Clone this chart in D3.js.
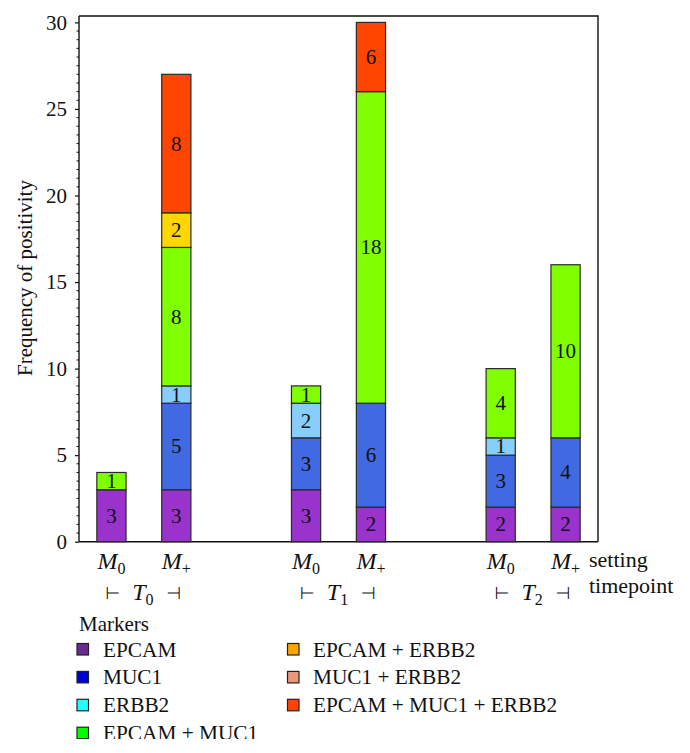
<!DOCTYPE html>
<html>
<head>
<meta charset="utf-8">
<script src="https://cdn.jsdelivr.net/npm/d3@7"></script>
<style>
  html, body { margin: 0; padding: 0; background: #fff; }
  svg { display: block; }
</style>
</head>
<body>
<svg id="chart" width="690" height="753"></svg>
<script>
// ---- data ----
const timepoints = ["0", "1", "2"];            // T subscripts
const settings = ["0", "+"];                   // M subscripts
const barSlots = [1, 2, 4, 5, 7, 8];           // slot of each bar (T0 M0, T0 M+, T1 M0, T1 M+, T2 M0, T2 M+)
const barSetting = ["0", "+", "0", "+", "0", "+"];
const seriesNames = ["EPCAM", "MUC1", "ERBB2", "EPCAM + MUC1", "EPCAM + ERBB2", "MUC1 + ERBB2", "EPCAM + MUC1 + ERBB2"];
const epcam       = [3, 3, 3, 2, 2, 2];
const muc1        = [0, 5, 3, 6, 3, 4];
const erbb2       = [0, 1, 2, 0, 1, 0];
const epcamMuc1   = [1, 8, 1, 18, 4, 10];
const epcamErbb2  = [0, 2, 0, 0, 0, 0];
const muc1Erbb2   = [0, 0, 0, 0, 0, 0];
const triple      = [0, 8, 0, 4, 0, 0];
const tripleLabels = [0, 8, 0, 6, 0, 0];       // printed numbers (the figure prints 6 on a 4-high segment)
const yTicks = [0, 5, 10, 15, 20, 25, 30];
const barColors    = ["#9933cc", "#4169e1", "#87cefa", "#7fff00", "#ffd700", "#e9967a", "#ff4500"];
const legendColors = ["#6a2c91", "#0000cd", "#22ffff", "#00ff00", "#ffa500", "#e9967a", "#ff4500"];

const seriesValues = [epcam, muc1, erbb2, epcamMuc1, epcamErbb2, muc1Erbb2, triple];
const seriesLabels = [epcam, muc1, erbb2, epcamMuc1, epcamErbb2, muc1Erbb2, tripleLabels];

const SERIF = "Liberation Serif";
const SYM = "DejaVu Sans";

// ---- layout ----
const svg = d3.select("#chart").style("font-family", SERIF);
const pL = 79, pR = 598, pT = 16, pB = 541.7;
const x = d3.scaleLinear().domain([0.5, 8.5]).range([pL, pR]);
const y = d3.scaleLinear().domain([0, 30.37]).range([pB, pT]);
const barW = x(1.45) - x(1);

function txt(sel) { return sel.append("text").style("font-family", SERIF).attr("fill", "#111"); }

// table of stacked rows
const rows = barSlots.map((s, i) => {
  const r = { slot: s };
  seriesNames.forEach((n, k) => { r[n] = seriesValues[k][i]; });
  return r;
});
const stack = d3.stack().keys(seriesNames)(rows);

// frame top & right
svg.append("path")
  .attr("d", `M${pL},${pT}H${pR}V${pB}`)
  .attr("fill", "none").attr("stroke", "#111").attr("stroke-width", 1.4);
// bottom axis line
svg.append("line").attr("x1", pL).attr("x2", pR).attr("y1", pB).attr("y2", pB)
  .attr("stroke", "#111").attr("stroke-width", 1.4);

// bars
stack.forEach((layer, k) => {
  const g = svg.append("g");
  layer.forEach((d, i) => {
    if (d[1] - d[0] <= 0) return;
    const cx = x(d.data.slot);
    g.append("rect")
      .attr("x", cx - barW / 2).attr("width", barW)
      .attr("y", y(d[1])).attr("height", y(d[0]) - y(d[1]))
      .attr("fill", barColors[k]).attr("stroke", "#2a2a2a").attr("stroke-width", 1.2);
    txt(g)
      .attr("x", cx).attr("y", (y(d[0]) + y(d[1])) / 2 + 7)
      .attr("text-anchor", "middle").attr("font-size", 21)
      .text(seriesLabels[k][i]);
  });
});

// y axis
const yAxis = svg.append("g").attr("transform", `translate(${pL},0)`)
  .call(d3.axisLeft(y).tickValues(yTicks).tickSize(4).tickPadding(8).tickFormat(d3.format("d")));
yAxis.attr("font-family", null).attr("font-size", null);
yAxis.select(".domain").attr("stroke", "#111").attr("stroke-width", 1.4).attr("d", `M0,${pT}V${pB}`);
yAxis.selectAll(".tick line").attr("stroke", "#111").attr("stroke-width", 1.2);
yAxis.selectAll(".tick text").attr("font-size", 21).style("font-family", SERIF).attr("fill", "#111");
const minor = d3.range(0, 30.01, 0.5).filter(v => v % 5 !== 0);
svg.append("g").selectAll("line").data(minor).join("line")
  .attr("x1", pL - 2.5).attr("x2", pL).attr("y1", d => y(d)).attr("y2", d => y(d))
  .attr("stroke", "#111").attr("stroke-width", 1);

// y label
txt(svg)
  .attr("transform", `translate(32,${(y(0) + y(30)) / 2 - 4}) rotate(-90)`)
  .attr("text-anchor", "middle").attr("font-size", 21)
  .text("Frequency of positivity");

// x setting labels
barSlots.forEach((s, i) => {
  const t = txt(svg).attr("x", x(s)).attr("y", 569).attr("text-anchor", "middle").attr("font-size", 24);
  t.append("tspan").attr("font-style", "italic").text("M");
  t.append("tspan").attr("font-size", 16).attr("dy", 5).text(barSetting[i]);
});
txt(svg).attr("x", 589).attr("y", 567).attr("font-size", 22).text("setting");

// timepoint labels
timepoints.forEach((tp, g) => {
  const mid = (x(barSlots[2 * g]) + x(barSlots[2 * g + 1])) / 2;
  svg.append("text").attr("x", mid - 31).attr("y", 599).attr("text-anchor", "middle")
    .attr("font-size", 17).style("font-family", SYM).attr("fill", "#111").text("\u22A2");
  const t = txt(svg).attr("x", mid - 1).attr("y", 600).attr("text-anchor", "middle").attr("font-size", 24);
  t.append("tspan").attr("font-style", "italic").text("T");
  t.append("tspan").attr("font-size", 16).attr("dy", 5).text(tp);
  svg.append("text").attr("x", mid + 30).attr("y", 599).attr("text-anchor", "middle")
    .attr("font-size", 17).style("font-family", SYM).attr("fill", "#111").text("\u22A3");
});
txt(svg).attr("x", 589).attr("y", 593).attr("font-size", 22).text("timepoint");

// legend (clipped at the bottom as in the figure)
svg.append("clipPath").attr("id", "legclip").append("rect")
  .attr("x", 0).attr("y", 600).attr("width", 690).attr("height", 139);
const leg = svg.append("g").attr("clip-path", "url(#legclip)");
txt(leg).attr("x", 79).attr("y", 631).attr("font-size", 21).text("Markers");
seriesNames.forEach((n, k) => {
  const col = k < 4 ? 0 : 1;
  const row = k < 4 ? k : k - 4;
  const sx = col === 0 ? 77 : 287.5;
  const cy = 649.5 + row * 27.9;
  leg.append("rect").attr("x", sx).attr("y", cy - 6).attr("width", 11.5).attr("height", 11.5)
    .attr("fill", legendColors[k]).attr("stroke", "#222").attr("stroke-width", 1.2);
  txt(leg).attr("x", col === 0 ? 103 : 313).attr("y", cy + 7).attr("font-size", 21.3).text(n);
});
</script>
</body>
</html>
